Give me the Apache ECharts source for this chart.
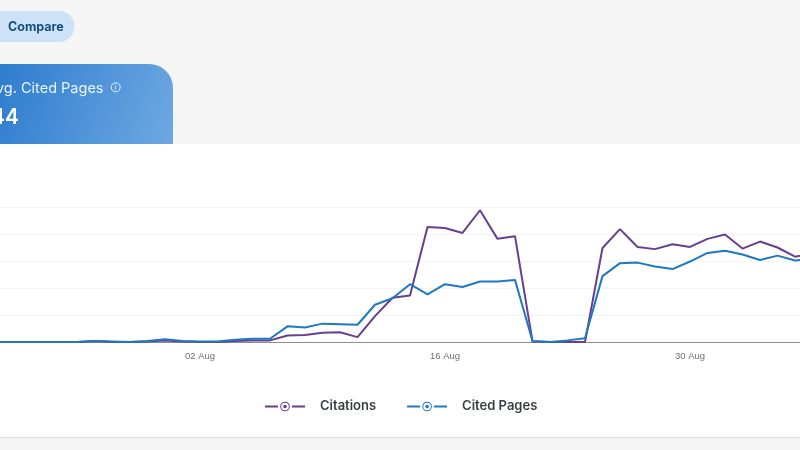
<!DOCTYPE html>
<html><head><meta charset="utf-8">
<script src="https://cdn.jsdelivr.net/npm/echarts@6/dist/echarts.min.js"></script>
<style>html,body{margin:0;padding:0;background:#f5f5f5}#c{width:800px;height:450px}</style>
</head><body><div id="c"></div>
<script>
const dates = ['19 Jul','20 Jul','21 Jul','22 Jul','23 Jul','24 Jul','25 Jul','26 Jul','27 Jul','28 Jul','29 Jul','30 Jul','31 Jul','01 Aug',
 '02 Aug','03 Aug','04 Aug','05 Aug','06 Aug','07 Aug','08 Aug','09 Aug','10 Aug','11 Aug','12 Aug','13 Aug','14 Aug','15 Aug',
 '16 Aug','17 Aug','18 Aug','19 Aug','20 Aug','21 Aug','22 Aug','23 Aug','24 Aug','25 Aug','26 Aug','27 Aug','28 Aug','29 Aug',
 '30 Aug','31 Aug','01 Sep','02 Sep','03 Sep','04 Sep','05 Sep','06 Sep'];
const citations = [0,0,0,0,0,0,0,0,2,0,0,1,3,1,
 0,0,2,3,3,12,13,17,18,9,48,82,86,213,
 211,202,244,191,196,1,0,0,0,174,209,176,172,181,
 176,191,199,173,186,175,158,164];
const citedPages = [0,0,0,0,0,0,0,0,2,1,0,2,5,2,
 1,1,4,6,6,29,27,34,33,32,69,81,107,88,
 107,102,112,112,115,2,0,3,7,122,146,147,140,135,
 149,165,169,162,152,160,151,154];
const purple = '#683f8e', blue = '#1f78c0';
const legendIcon = 'path://M0 4H13V6H0ZM27 4H40V6H27Z' +
 'M15.2 5A4.8 4.8 0 1 1 24.8 5A4.8 4.8 0 1 1 15.2 5Z' +
 'M16.2 5A3.8 3.8 0 1 0 23.8 5A3.8 3.8 0 1 0 16.2 5Z' +
 'M18.2 5A1.8 1.8 0 1 1 21.8 5A1.8 1.8 0 1 1 18.2 5Z';
const chart = echarts.init(document.getElementById('c'));
chart.setOption({
  animation: false,
  backgroundColor: '#f5f5f5',
  textStyle: { fontFamily: 'Inter, sans-serif' },
  grid: { left: -45, right: -12.5, top: 207, bottom: 108, containLabel: false, outerBoundsMode: 'none' },
  xAxis: {
    type: 'category', data: dates, boundaryGap: false,
    axisLine: { lineStyle: { color: '#8c8c8c', width: 1 } },
    axisTick: { show: false },
    axisLabel: { interval: 13, color: '#6f6f6f', fontSize: 9.5, margin: 9, fontFamily: 'Liberation Sans, sans-serif', hideOverlap: false },
    splitLine: { show: false }
  },
  yAxis: {
    type: 'value', min: 0, max: 250, interval: 50,
    axisLine: { show: false }, axisTick: { show: false }, axisLabel: { show: false },
    splitLine: { lineStyle: { color: '#f4f4f4', width: 1 } }
  },
  legend: {
    left: 260, top: 395, itemWidth: 40, itemHeight: 10, itemGap: 31,
    icon: legendIcon,
    itemStyle: { borderWidth: 0 },
    textStyle: { color: '#3a3e42', fontSize: 13, fontWeight: 600, padding: [0, 0, 0, 10], fontFamily: 'Inter, sans-serif' },
    data: ['Citations', 'Cited Pages']
  },
  series: [
    { name: 'Citations', type: 'line', data: citations, showSymbol: false, symbol: 'none',
      lineStyle: { color: purple, width: 2 }, itemStyle: { color: purple }, z: 3 },
    { name: 'Cited Pages', type: 'line', data: citedPages, showSymbol: false, symbol: 'none',
      lineStyle: { color: blue, width: 2 }, itemStyle: { color: blue }, z: 4 }
  ],
  graphic: [
    { type: 'rect', z: -10, silent: true, shape: { x: 0, y: 144, width: 800, height: 293 }, style: { fill: '#ffffff' } },
    { type: 'rect', z: -10, silent: true, shape: { x: 0, y: 437, width: 800, height: 1 }, style: { fill: '#dcdcdc' } },
    { type: 'rect', z: -9, silent: true, shape: { x: -40, y: 11, width: 114.5, height: 31, r: 15.5 }, style: { fill: '#cde2f6' } },
    { type: 'text', z: -8, silent: true, style: { x: 8, y: 27.5, text: 'Compare', fill: '#14507f', font: '700 12.5px Inter, sans-serif', textVerticalAlign: 'middle' } },
    { type: 'rect', z: -9, silent: true, shape: { x: -60, y: 64, width: 233, height: 80, r: [24, 24, 0, 0] },
      style: { fill: new echarts.graphic.LinearGradient(0, 0, 1, 1, [{ offset: 0, color: '#1a70c8' }, { offset: 1, color: '#6ea8e2' }]) } },
    { type: 'text', z: -8, silent: true, style: { x: 103.5, y: 89, text: 'Avg. Cited Pages', fill: '#eaf3fb', font: '400 14.5px Inter, sans-serif', textAlign: 'right', textVerticalAlign: 'middle' } },
    { type: 'circle', z: -8, silent: true, shape: { cx: 115.7, cy: 87.3, r: 4.5 }, style: { fill: 'none', stroke: '#e4f0fa', lineWidth: 1 } },
    { type: 'text', z: -8, silent: true, style: { x: 115.7, y: 87.5, text: 'i', fill: '#e4f0fa', font: '400 7px Inter, sans-serif', textAlign: 'center', textVerticalAlign: 'middle' } },
    { type: 'text', z: -8, silent: true, style: { x: 19, y: 117.5, text: '44', fill: '#ffffff', font: '600 21px Inter, sans-serif', textAlign: 'right', textVerticalAlign: 'middle' } }
  ]
});
</script></body></html>
